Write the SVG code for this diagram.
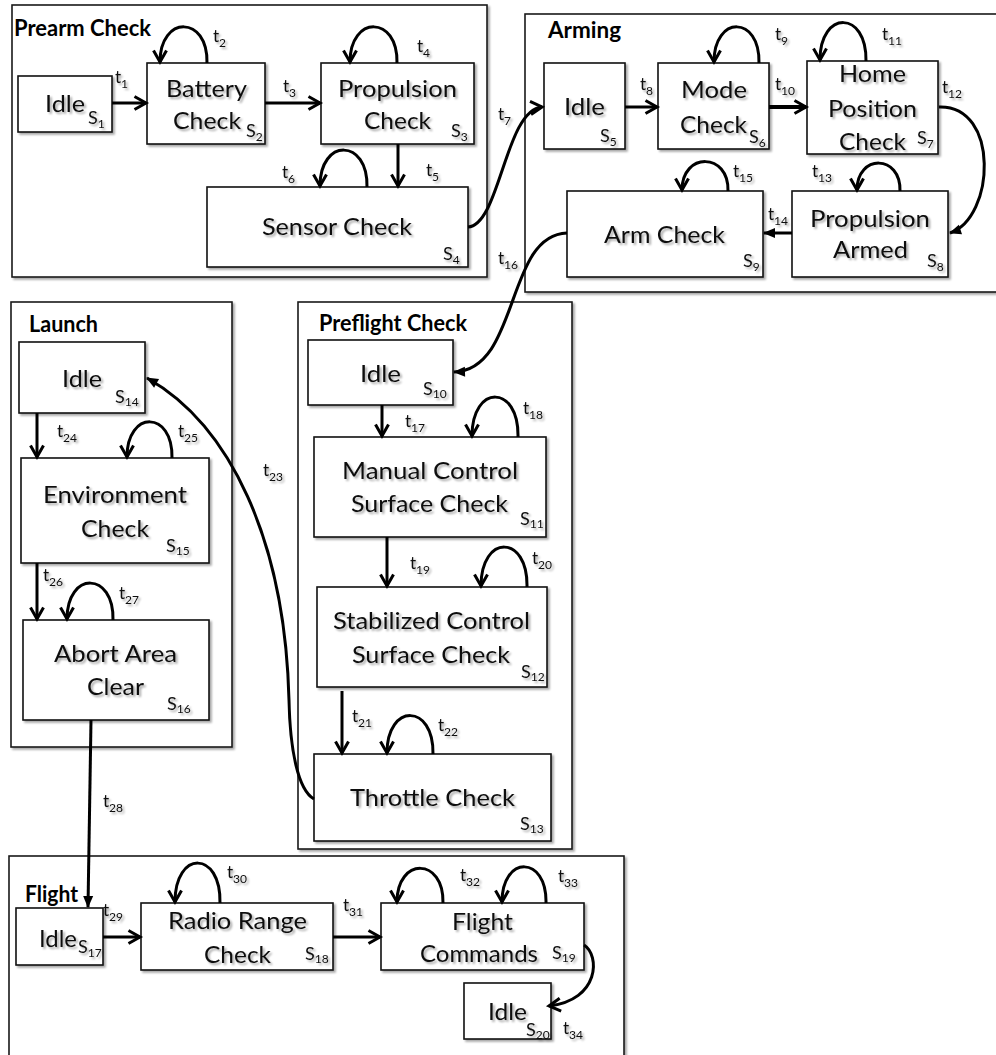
<svg xmlns="http://www.w3.org/2000/svg" width="996" height="1055" viewBox="0 0 996 1055">
  <defs>
    <!-- soft drop shadow used on boxes and labels -->
    <filter id="shadow" x="-10%" y="-10%" width="130%" height="140%">
      <feGaussianBlur in="SourceAlpha" stdDeviation="1.1"/>
      <feOffset dx="1.5" dy="1.8"/>
      <feComponentTransfer><feFuncA type="linear" slope="0.35"/></feComponentTransfer>
      <feMerge><feMergeNode/><feMergeNode in="SourceGraphic"/></feMerge>
    </filter>
    <marker id="open" viewBox="0 0 14 14" refX="12.5" refY="7" markerWidth="14" markerHeight="14" markerUnits="userSpaceOnUse" orient="auto" style="overflow:visible">
      <path d="M1,0.5 L12.5,7 L1,13.5" fill="none" stroke="#000" stroke-width="3" stroke-linejoin="miter"/>
    </marker>
    <marker id="solid" viewBox="0 0 12 10" refX="11" refY="5" markerWidth="12" markerHeight="10" markerUnits="userSpaceOnUse" orient="auto" style="overflow:visible">
      <path d="M0,0 L12,5 L0,10 Z" fill="#000"/>
    </marker>
  </defs>
  <style>
    .frame { fill: #fff; stroke: #1a1a1a; stroke-width: 1.6; }
    .box { fill: #fff; stroke: #111; stroke-width: 1.6; }
    .title { font-family: Lato, "Liberation Sans", sans-serif; font-weight: 700; font-size: 22px; fill: #000; }
    .lbl { font-family: Lato, "Liberation Sans", sans-serif; font-size: 24px; fill: #111; }
    .sid { font-family: Lato, "Liberation Sans", sans-serif; font-size: 18px; fill: #111; }
    .tl { font-family: Lato, "Liberation Sans", sans-serif; font-size: 17px; fill: #111; }
    .sub { font-size: 12px; }
    .edge { fill: none; stroke: #000; stroke-width: 3; }
    .arr { marker-end: url(#open); }
    .tri { marker-end: url(#solid); }
    .sh { filter: url(#shadow); }
  </style>

  <rect width="996" height="1055" fill="#fff"/>

  <!-- state-machine phases -->
  <g id="prearm-check">
    <rect class="frame sh" x="12" y="5" width="475" height="272"/>
    <text class="title" x="14" y="36" textLength="137" lengthAdjust="spacingAndGlyphs">Prearm Check</text>
  </g>
  <g id="arming">
    <rect class="frame sh" x="525" y="14" width="480" height="278"/>
    <text class="title" x="548" y="38" textLength="73" lengthAdjust="spacingAndGlyphs">Arming</text>
  </g>
  <g id="launch">
    <rect class="frame sh" x="11" y="302" width="221" height="445"/>
    <text class="title" x="29" y="332" textLength="69" lengthAdjust="spacingAndGlyphs">Launch</text>
  </g>
  <g id="preflight-check">
    <rect class="frame sh" x="298" y="302" width="274" height="547"/>
    <text class="title" x="319" y="331" textLength="148" lengthAdjust="spacingAndGlyphs">Preflight Check</text>
  </g>
  <g id="flight">
    <rect class="frame sh" x="9" y="856" width="615" height="210"/>
    <text class="title" x="25" y="902" textLength="53" lengthAdjust="spacingAndGlyphs">Flight</text>
  </g>

  <!-- states -->
  <g id="s1">
    <rect class="box sh" x="18" y="76" width="94" height="56"/>
    <g class="sh">
      <text class="lbl" x="45" y="112" textLength="40" lengthAdjust="spacingAndGlyphs">Idle</text>
      <text class="sid" x="88" y="124">S<tspan class="sub" dy="4">1</tspan></text>
    </g>
  </g>
  <g id="s2">
    <rect class="box sh" x="147" y="63" width="118" height="81"/>
    <g class="sh">
      <text class="lbl" x="166" y="97" textLength="81" lengthAdjust="spacingAndGlyphs">Battery</text>
      <text class="lbl" x="173" y="129" textLength="68" lengthAdjust="spacingAndGlyphs">Check</text>
      <text class="sid" x="246" y="137">S<tspan class="sub" dy="4">2</tspan></text>
    </g>
  </g>
  <g id="s3">
    <rect class="box sh" x="321" y="63" width="153" height="81"/>
    <g class="sh">
      <text class="lbl" x="338" y="97" textLength="119" lengthAdjust="spacingAndGlyphs">Propulsion</text>
      <text class="lbl" x="364" y="129" textLength="67" lengthAdjust="spacingAndGlyphs">Check</text>
      <text class="sid" x="451" y="137">S<tspan class="sub" dy="4">3</tspan></text>
    </g>
  </g>
  <g id="s4">
    <rect class="box sh" x="207" y="187" width="261" height="80"/>
    <g class="sh">
      <text class="lbl" x="262" y="235" textLength="150" lengthAdjust="spacingAndGlyphs">Sensor Check</text>
      <text class="sid" x="443" y="260">S<tspan class="sub" dy="4">4</tspan></text>
    </g>
  </g>
  <g id="s5">
    <rect class="box sh" x="544" y="63" width="81" height="86"/>
    <g class="sh">
      <text class="lbl" x="564" y="115" textLength="41" lengthAdjust="spacingAndGlyphs">Idle</text>
      <text class="sid" x="600" y="142">S<tspan class="sub" dy="4">5</tspan></text>
    </g>
  </g>
  <g id="s6">
    <rect class="box sh" x="658" y="63" width="111" height="86"/>
    <g class="sh">
      <text class="lbl" x="681" y="98" textLength="66" lengthAdjust="spacingAndGlyphs">Mode</text>
      <text class="lbl" x="680" y="133" textLength="67" lengthAdjust="spacingAndGlyphs">Check</text>
      <text class="sid" x="749" y="143">S<tspan class="sub" dy="4">6</tspan></text>
    </g>
  </g>
  <g id="s7">
    <rect class="box sh" x="807" y="61" width="131" height="93"/>
    <g class="sh">
      <text class="lbl" x="839" y="82" textLength="67" lengthAdjust="spacingAndGlyphs">Home</text>
      <text class="lbl" x="828" y="117" textLength="89" lengthAdjust="spacingAndGlyphs">Position</text>
      <text class="lbl" x="839" y="150" textLength="67" lengthAdjust="spacingAndGlyphs">Check</text>
      <text class="sid" x="917" y="144">S<tspan class="sub" dy="4">7</tspan></text>
    </g>
  </g>
  <g id="s8">
    <rect class="box sh" x="792" y="191" width="156" height="86"/>
    <g class="sh">
      <text class="lbl" x="810" y="227" textLength="120" lengthAdjust="spacingAndGlyphs">Propulsion</text>
      <text class="lbl" x="833" y="258" textLength="75" lengthAdjust="spacingAndGlyphs">Armed</text>
      <text class="sid" x="927" y="267">S<tspan class="sub" dy="4">8</tspan></text>
    </g>
  </g>
  <g id="s9">
    <rect class="box sh" x="567" y="191" width="196" height="86"/>
    <g class="sh">
      <text class="lbl" x="604" y="243" textLength="121" lengthAdjust="spacingAndGlyphs">Arm Check</text>
      <text class="sid" x="743" y="267">S<tspan class="sub" dy="4">9</tspan></text>
    </g>
  </g>
  <g id="s10">
    <rect class="box sh" x="308" y="340" width="145" height="65"/>
    <g class="sh">
      <text class="lbl" x="360" y="382" textLength="41" lengthAdjust="spacingAndGlyphs">Idle</text>
      <text class="sid" x="423" y="395">S<tspan class="sub" dy="3">10</tspan></text>
    </g>
  </g>
  <g id="s11">
    <rect class="box sh" x="314" y="437" width="232" height="100"/>
    <g class="sh">
      <text class="lbl" x="342" y="479" textLength="176" lengthAdjust="spacingAndGlyphs">Manual Control</text>
      <text class="lbl" x="351" y="512" textLength="157" lengthAdjust="spacingAndGlyphs">Surface Check</text>
      <text class="sid" x="520" y="525">S<tspan class="sub" dy="3">11</tspan></text>
    </g>
  </g>
  <g id="s12">
    <rect class="box sh" x="317" y="587" width="230" height="100"/>
    <g class="sh">
      <text class="lbl" x="333" y="629" textLength="197" lengthAdjust="spacingAndGlyphs">Stabilized Control</text>
      <text class="lbl" x="352" y="663" textLength="158" lengthAdjust="spacingAndGlyphs">Surface Check</text>
      <text class="sid" x="521" y="678">S<tspan class="sub" dy="3">12</tspan></text>
    </g>
  </g>
  <g id="s13">
    <rect class="box sh" x="314" y="754" width="237" height="87"/>
    <g class="sh">
      <text class="lbl" x="350" y="806" textLength="165" lengthAdjust="spacingAndGlyphs">Throttle Check</text>
      <text class="sid" x="520" y="830">S<tspan class="sub" dy="3">13</tspan></text>
    </g>
  </g>
  <g id="s14">
    <rect class="box sh" x="19" y="342" width="126" height="71"/>
    <g class="sh">
      <text class="lbl" x="62" y="387" textLength="40" lengthAdjust="spacingAndGlyphs">Idle</text>
      <text class="sid" x="115" y="403">S<tspan class="sub" dy="3">14</tspan></text>
    </g>
  </g>
  <g id="s15">
    <rect class="box sh" x="21" y="458" width="188" height="105"/>
    <g class="sh">
      <text class="lbl" x="43" y="503" textLength="144" lengthAdjust="spacingAndGlyphs">Environment</text>
      <text class="lbl" x="81" y="537" textLength="68" lengthAdjust="spacingAndGlyphs">Check</text>
      <text class="sid" x="166" y="552">S<tspan class="sub" dy="3">15</tspan></text>
    </g>
  </g>
  <g id="s16">
    <rect class="box sh" x="23" y="620" width="186" height="100"/>
    <g class="sh">
      <text class="lbl" x="54" y="662" textLength="123" lengthAdjust="spacingAndGlyphs">Abort Area</text>
      <text class="lbl" x="87" y="695" textLength="57" lengthAdjust="spacingAndGlyphs">Clear</text>
      <text class="sid" x="167" y="710">S<tspan class="sub" dy="3">16</tspan></text>
    </g>
  </g>
  <g id="s17">
    <rect class="box sh" x="16" y="908" width="87" height="57"/>
    <g class="sh">
      <text class="lbl" x="39" y="947" textLength="38" lengthAdjust="spacingAndGlyphs">Idle</text>
      <text class="sid" x="78" y="953">S<tspan class="sub" dy="4">17</tspan></text>
    </g>
  </g>
  <g id="s18">
    <rect class="box sh" x="141" y="903" width="192" height="67"/>
    <g class="sh">
      <text class="lbl" x="168" y="929" textLength="139" lengthAdjust="spacingAndGlyphs">Radio Range</text>
      <text class="lbl" x="204" y="963" textLength="67" lengthAdjust="spacingAndGlyphs">Check</text>
      <text class="sid" x="305" y="960">S<tspan class="sub" dy="3">18</tspan></text>
    </g>
  </g>
  <g id="s19">
    <rect class="box sh" x="381" y="903" width="203" height="67"/>
    <g class="sh">
      <text class="lbl" x="452" y="930" textLength="61" lengthAdjust="spacingAndGlyphs">Flight</text>
      <text class="lbl" x="420" y="962" textLength="118" lengthAdjust="spacingAndGlyphs">Commands</text>
      <text class="sid" x="552" y="959">S<tspan class="sub" dy="3">19</tspan></text>
    </g>
  </g>
  <g id="s20">
    <rect class="box sh" x="464" y="983" width="87" height="56"/>
    <g class="sh">
      <text class="lbl" x="488" y="1020" textLength="39" lengthAdjust="spacingAndGlyphs">Idle</text>
      <text class="sid" x="526" y="1036">S<tspan class="sub" dy="3">20</tspan></text>
    </g>
  </g>

  <!-- transitions -->
  <g id="connectors">
    <!-- straight transitions -->
    <path class="edge arr" d="M112,103 H146"/>
    <path class="edge arr" d="M265,103 H320"/>
    <path class="edge arr" d="M398,144 V186"/>
    <path class="edge arr" d="M625,107 H657"/>
    <path class="edge arr" d="M769,107 H806" style="stroke-width:4"/>
    <path class="edge tri" d="M792,233 H764"/>
    <path class="edge arr" d="M382,405 V436"/>
    <path class="edge arr" d="M387,537 V586"/>
    <path class="edge arr" d="M342,691 V753"/>
    <path class="edge arr" d="M37,413 V457"/>
    <path class="edge arr" d="M37,563 V619"/>
    <path class="edge tri" d="M91,720 L88,907"/>
    <path class="edge arr" d="M103,937 H140"/>
    <path class="edge arr" d="M333,937 H380"/>

    <!-- self transitions -->
    <path class="edge arr" d="M207,63 C208,15 160,15 160,62"/>
    <path class="edge arr" d="M397,63 C398,15 350,15 350,62"/>
    <path class="edge arr" d="M367,187 C368,138 320,138 320,186"/>
    <path class="edge arr" d="M759,63 C760,15 714,15 714,62"/>
    <path class="edge arr" d="M866,61 C867,10 820,10 820,60"/>
    <path class="edge arr" d="M900,191 C901,154 857,154 857,190"/>
    <path class="edge arr" d="M728,191 C729,152 682,152 682,190"/>
    <path class="edge arr" d="M518,437 C519,384 472,384 472,436"/>
    <path class="edge arr" d="M527,587 C528,534 481,534 481,586"/>
    <path class="edge arr" d="M433,754 C434,703 387,703 387,753"/>
    <path class="edge arr" d="M172,458 C173,410 127,410 127,457"/>
    <path class="edge arr" d="M113,620 C114,571 67,571 67,619"/>
    <path class="edge arr" d="M220,903 C221,850 175,850 175,902"/>
    <path class="edge arr" d="M443,903 C444,857 397,857 397,902"/>
    <path class="edge arr" d="M546,903 C547,855 502,855 502,902"/>

    <!-- transitions between phases -->
    <path class="edge arr" d="M468,227 C500,225 505,110 542,107"/>
    <path class="edge tri" d="M939,107 C1000,105 995,218 950,233"/>
    <path class="edge tri" d="M567,233 C505,235 520,370 454,372"/>
    <path class="edge tri" d="M314,799 C298,790 290,750 289,700 C285,540 230,425 147,378"/>
    <path class="edge arr" d="M584,945 C600,955 600,1000 549,1006"/>
  </g>

  <!-- transition labels -->
  <g id="transition-labels" class="sh">
    <text class="tl" x="115" y="83">t<tspan class="sub" dy="5">1</tspan></text>
    <text class="tl" x="213" y="42">t<tspan class="sub" dy="5">2</tspan></text>
    <text class="tl" x="283" y="92">t<tspan class="sub" dy="5">3</tspan></text>
    <text class="tl" x="417" y="52">t<tspan class="sub" dy="5">4</tspan></text>
    <text class="tl" x="426" y="176">t<tspan class="sub" dy="5">5</tspan></text>
    <text class="tl" x="282" y="178">t<tspan class="sub" dy="5">6</tspan></text>
    <text class="tl" x="498" y="120">t<tspan class="sub" dy="5">7</tspan></text>
    <text class="tl" x="640" y="90">t<tspan class="sub" dy="5">8</tspan></text>
    <text class="tl" x="775" y="40">t<tspan class="sub" dy="5">9</tspan></text>
    <text class="tl" x="775" y="90">t<tspan class="sub" dy="5">10</tspan></text>
    <text class="tl" x="882" y="40">t<tspan class="sub" dy="5">11</tspan></text>
    <text class="tl" x="942" y="93">t<tspan class="sub" dy="5">12</tspan></text>
    <text class="tl" x="812" y="177">t<tspan class="sub" dy="5">13</tspan></text>
    <text class="tl" x="768" y="220">t<tspan class="sub" dy="5">14</tspan></text>
    <text class="tl" x="733" y="177">t<tspan class="sub" dy="5">15</tspan></text>
    <text class="tl" x="498" y="264">t<tspan class="sub" dy="5">16</tspan></text>
    <text class="tl" x="405" y="427">t<tspan class="sub" dy="5">17</tspan></text>
    <text class="tl" x="523" y="414">t<tspan class="sub" dy="5">18</tspan></text>
    <text class="tl" x="410" y="569">t<tspan class="sub" dy="5">19</tspan></text>
    <text class="tl" x="532" y="564">t<tspan class="sub" dy="5">20</tspan></text>
    <text class="tl" x="352" y="722">t<tspan class="sub" dy="5">21</tspan></text>
    <text class="tl" x="438" y="731">t<tspan class="sub" dy="5">22</tspan></text>
    <text class="tl" x="263" y="476">t<tspan class="sub" dy="5">23</tspan></text>
    <text class="tl" x="57" y="437">t<tspan class="sub" dy="5">24</tspan></text>
    <text class="tl" x="178" y="437">t<tspan class="sub" dy="5">25</tspan></text>
    <text class="tl" x="43" y="581">t<tspan class="sub" dy="5">26</tspan></text>
    <text class="tl" x="119" y="599">t<tspan class="sub" dy="5">27</tspan></text>
    <text class="tl" x="103" y="807">t<tspan class="sub" dy="5">28</tspan></text>
    <text class="tl" x="103" y="916">t<tspan class="sub" dy="5">29</tspan></text>
    <text class="tl" x="227" y="878">t<tspan class="sub" dy="5">30</tspan></text>
    <text class="tl" x="343" y="911">t<tspan class="sub" dy="5">31</tspan></text>
    <text class="tl" x="460" y="881">t<tspan class="sub" dy="5">32</tspan></text>
    <text class="tl" x="558" y="882">t<tspan class="sub" dy="5">33</tspan></text>
    <text class="tl" x="563" y="1034">t<tspan class="sub" dy="5">34</tspan></text>
  </g>
</svg>
